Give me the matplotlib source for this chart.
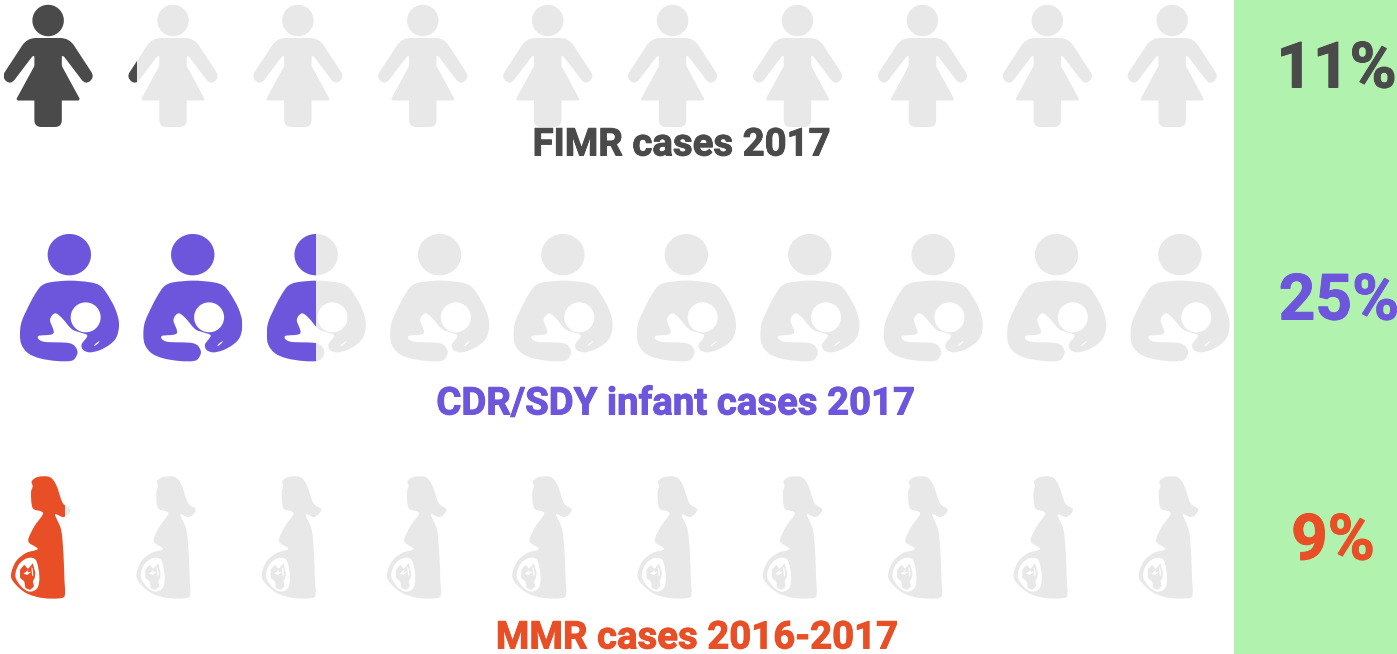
import numpy as np
import matplotlib
matplotlib.use("Agg")
import matplotlib.pyplot as plt
import matplotlib.patheffects as pe
from matplotlib.path import Path
from matplotlib.patches import PathPatch, Rectangle

plt.rcParams["font.family"] = ["Roboto", "DejaVu Sans"]

# --- data ---
labels = ["FIMR cases 2017", "CDR/SDY infant cases 2017", "MMR cases 2016-2017"]
percents = [11, 25, 9]
colors = ["#4a4a4a", "#6e56dc", "#e84f26"]
pale = "#e8e8e8"
panel = "#b0f2ae"
per_icon = 10  # one icon stands for 10%
n_icons = 10

# layout in pixels
icon_x0 = [3.5, 20, 11]
icon_step = [124.9, 123.4, 125.3]
icon_y0 = [5, 234, 477]
label_x = [681.5, 675.5, 697]
label_y = [145, 404, 638]
pct_x = [1336.5, 1339, 1333]
pct_y = [70, 302, 542]


# --- icon shapes ---
def ellipse(cx, cy, rx, ry, tilt=0.0, n=48):
    t = np.linspace(0, 2 * np.pi, n, endpoint=False)
    a = np.radians(tilt)
    x, y = rx * np.cos(t), ry * np.sin(t)
    return np.c_[cx + x * np.cos(a) - y * np.sin(a), cy + x * np.sin(a) + y * np.cos(a)]


def orient(pts, ccw=True):
    pts = np.asarray(pts, float)
    x, y = pts[:, 0], pts[:, 1]
    area = np.sum(x * np.roll(y, -1) - np.roll(x, -1) * y)
    return pts if (area > 0) == ccw else pts[::-1]


def smooth(pts, tension=6.0):
    # closed catmull-rom through the points, as bezier segments
    p = np.asarray(pts, float)
    nxt, prv = np.roll(p, -1, 0), np.roll(p, 1, 0)
    nn = np.roll(p, -2, 0)
    verts, codes = [p[0]], [Path.MOVETO]
    for a, b, c, d in zip(prv, p, nxt, nn):
        verts += [b + (c - a) / tension, c - (d - b) / tension, c]
        codes += [Path.CURVE4] * 3
    verts.append(p[0])
    codes.append(Path.CLOSEPOLY)
    return verts, codes


def rounded(pts, r):
    # closed polygon with quadratic corners, r is one radius or one per corner
    p = np.asarray(pts, float)
    radii = np.broadcast_to(r, len(p))
    verts, codes = [], []
    for i in range(len(p)):
        a, b, c = p[i - 1], p[i], p[(i + 1) % len(p)]
        ra = min(radii[i], np.linalg.norm(a - b) / 2) + 1e-6
        rc = min(radii[i], np.linalg.norm(c - b) / 2) + 1e-6
        s = b + (a - b) / np.linalg.norm(a - b) * ra
        e = b + (c - b) / np.linalg.norm(c - b) * rc
        verts += [s, b, e]
        codes += [Path.LINETO if i else Path.MOVETO, Path.CURVE3, Path.CURVE3]
    verts.append(verts[0])
    codes.append(Path.CLOSEPOLY)
    return verts, codes


def compound(parts):
    verts, codes = [], []
    for v, c in parts:
        verts += list(v)
        codes += list(c)
    return Path(np.array(verts), codes)


def woman():
    half = [(21, 33, 9), (46.5, 72, 6), (37.5, 80, 7), (15.5, 51, 2), (13.7, 51, 1),
            (13.7, 61, 1), (32.5, 95.5, 3), (13.7, 95.5, 0), (13.7, 122, 7)]
    right = [(x, y) for x, y, _ in half]
    rad = [r for _, _, r in half]
    body = right + [(-x, y) for x, y in right[::-1]]
    radii = rad + rad[::-1]
    head = ellipse(0, 15.5, 15.7, 15.7)
    # body keeps the same winding as the head
    area = lambda q: np.sum(q[:, 0] * np.roll(q[:, 1], -1) - np.roll(q[:, 0], -1) * q[:, 1])
    b = np.array(body)
    if area(b) < 0:
        b, radii = b[::-1], radii[::-1]
    return compound([smooth(orient(head)), rounded(b, np.array(radii))])


def nursing():
    # drawn on a 3x grid, scaled down below
    body = [(150, 172), (210, 167), (270, 172), (300, 182), (320, 205), (345, 250), (357, 295),
            (350, 335), (330, 358), (300, 375), (270, 382), (250, 375), (245, 358), (262, 332),
            (240, 322), (215, 312), (185, 278), (165, 265), (150, 285), (160, 325), (115, 333),
            (130, 350), (210, 355), (232, 378), (225, 400), (210, 408), (170, 408), (120, 400),
            (85, 385), (65, 360), (60, 330), (65, 290), (90, 235), (110, 200), (125, 182)]
    parts = [smooth(orient(ellipse(208, 89, 65, 62))),
             smooth(orient(body)),
             smooth(orient(ellipse(257, 277, 45, 45), ccw=False)),
             smooth(orient(ellipse(290, 356, 11, 2, tilt=-40), ccw=False))]
    p = compound(parts)
    return Path((p.vertices - [60, 27]) / 3.0, p.codes)


def pregnant():
    body = [(97, 35), (115, 22), (150, 22), (170, 45), (190, 100), (213, 118), (205, 135),
            (190, 142), (167, 135), (185, 180), (192, 250), (195, 330), (197, 370), (187, 385),
            (130, 385), (80, 370), (45, 340), (35, 315), (50, 275), (80, 250), (115, 238),
            (90, 220), (88, 205), (105, 170), (130, 135), (125, 125), (100, 115), (95, 70),
            (100, 50)]
    womb = [(85, 265), (110, 272), (120, 320), (114, 355), (90, 366), (65, 350), (48, 320), (58, 285)]
    fetus = [(62, 300), (75, 285), (85, 298), (95, 288), (100, 280), (108, 310), (106, 325),
             (100, 335), (104, 350), (92, 361), (78, 355), (75, 335), (62, 325)]
    slit = [(72, 312), (88, 300), (84, 308), (96, 306), (84, 316)]
    arc = [(96, 292), (100, 296), (102, 318), (98, 318)]
    parts = [smooth(orient(body)), smooth(orient(womb, ccw=False)),
             rounded(orient(fetus), 3), rounded(orient(slit, ccw=False), 1),
             rounded(orient(arc, ccw=False), 1)]
    p = compound(parts)
    return Path((p.vertices - [35, 22]) / 3.0, p.codes)


shapes = [woman(), nursing(), pregnant()]

# --- figure ---
fig = plt.figure(figsize=(13.97, 6.54), dpi=100)
ax = fig.add_axes([0, 0, 1, 1])
ax.set_xlim(0, 1397)
ax.set_ylim(654, 0)
ax.axis("off")

ax.add_patch(Rectangle((1233.5, 0), 164, 654, fc=panel, ec="none"))

for row, shape in enumerate(shapes):
    ext = shape.get_extents()
    left, width = ext.x0, ext.width
    for i in range(n_icons):
        fill = np.clip(percents[row] / per_icon - i, 0, 1)
        dx = icon_x0[row] - left + i * icon_step[row]
        dy = icon_y0[row]
        placed = Path(shape.vertices + [dx, dy], shape.codes)
        ax.add_patch(PathPatch(placed, fc=pale, ec="none"))
        if fill > 0:
            fg = PathPatch(placed, fc=colors[row], ec="none")
            ax.add_patch(fg)
            clip = Rectangle((left + dx, 0), width * fill, 654, transform=ax.transData)
            fg.set_clip_path(clip)

    heavy = [pe.withStroke(linewidth=0.7, foreground=colors[row])]
    ax.text(label_x[row], label_y[row], labels[row], color=colors[row], fontsize=27.6,
            fontweight="bold", ha="center", va="center", path_effects=heavy)
    ax.text(pct_x[row], pct_y[row], f"{percents[row]}%", color=colors[row], fontsize=46,
            fontweight="bold", ha="center", va="center", path_effects=heavy)

fig.savefig("out.png", dpi=100)
